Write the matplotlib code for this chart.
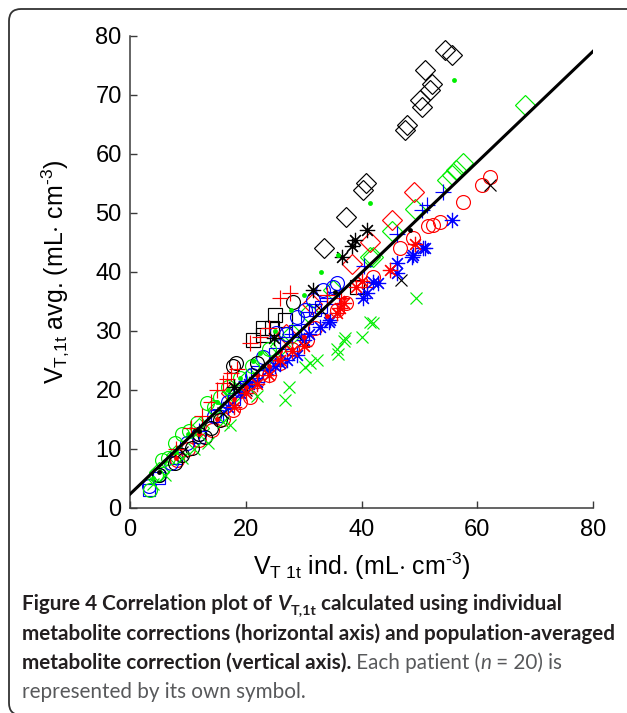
import numpy as np
import matplotlib
matplotlib.use('Agg')
import matplotlib.pyplot as plt
from matplotlib.patches import FancyBboxPatch
from matplotlib.transforms import IdentityTransform

plt.rcParams['font.family'] = ['Liberation Sans', 'DejaVu Sans']
plt.rcParams['mathtext.fontset'] = 'custom'
plt.rcParams['mathtext.rm'] = 'Liberation Sans'
plt.rcParams['mathtext.it'] = 'Liberation Sans:italic'
plt.rcParams['mathtext.bf'] = 'Liberation Sans:bold'

# ---- data: one group per patient (x = individual, y = population-averaged) ----
kd_x = [54.4, 55.6, 51.0, 52.2, 51.8, 50.1, 50.5, 47.9, 47.5, 40.8, 40.3, 37.3, 33.5]
kd_y = [77.6, 76.8, 74.2, 71.9, 70.8, 69.1, 67.9, 64.9, 64.1, 55.0, 53.9, 49.3, 44.0]

ks_x = [21.3, 23.0, 24.5, 25.0, 26.8, 23.0, 39.2]
ks_y = [28.4, 29.3, 30.5, 32.7, 31.8, 30.4, 37.5]

gdot_x = [56.0, 41.4, 35.9, 33.0, 30.0, 27.9, 25.0, 22.5, 21.3, 19.0, 17.0, 15.0, 12.0, 10.0, 8.0, 6.0, 4.0]
gdot_y = [72.5, 51.7, 42.9, 40.0, 36.0, 33.5, 30.0, 26.2, 24.8, 22.0, 20.0, 18.0, 13.0, 12.5, 9.5, 8.0, 5.0]

gx_x = [49.5, 42.0, 41.5, 40.0, 37.1, 36.9, 35.7, 36.0, 32.3, 31.1, 30.2, 27.4, 26.8, 22.0,
        17.3, 16.0, 13.5, 11.0, 9.0, 6.0, 4.0]
gx_y = [35.5, 31.4, 31.5, 28.9, 28.7, 28.2, 27.0, 26.1, 25.1, 24.5, 23.9, 20.5, 18.3, 19.0,
        14.0, 14.5, 10.9, 10.0, 8.5, 5.5, 4.0]

ro_x = [62.2, 60.8, 57.6, 53.6, 52.4, 51.5, 48.9, 46.7, 42.0, 37.4, 35.7, 32.0, 30.5, 28.0,
        26.0, 24.0, 22.0, 20.7, 19.0, 17.8, 16.0, 14.2, 12.0, 10.0, 8.1]
ro_y = [56.1, 54.7, 51.9, 48.5, 47.9, 47.7, 45.7, 44.0, 39.2, 34.7, 33.5, 30.5, 28.5, 27.0,
        24.5, 22.5, 21.5, 18.8, 18.0, 16.6, 15.0, 13.2, 11.5, 10.0, 8.1]

kx_x = [62.2, 46.9, 33.0, 29.9, 20.0, 16.0, 9.0]
kx_y = [54.7, 38.6, 33.5, 28.2, 20.0, 16.0, 9.5]

bst_x = [55.6, 51.0, 50.7, 48.7, 48.9, 46.1, 46.1, 42.9, 42.0, 40.9, 40.3, 34.6, 34.3, 32.8,
         31.0, 30.0, 28.8, 27.1, 26.0, 25.0, 23.9, 21.9, 20.5, 19.0, 17.0]
bst_y = [48.8, 44.0, 44.0, 42.6, 42.9, 41.5, 39.8, 38.1, 38.3, 36.4, 35.5, 31.8, 31.5, 30.7,
         29.5, 28.5, 25.9, 25.1, 24.5, 24.0, 23.4, 21.4, 21.0, 19.5, 17.0]

rd_x = [49.0, 45.2, 41.5, 38.4, 31.5, 27.0, 17.5]
rd_y = [53.6, 48.8, 45.1, 41.4, 34.5, 29.5, 19.5]

gd_x = [68.3, 57.5, 56.4, 55.6, 54.7, 49.2, 45.2, 42.0, 41.5, 35.0, 31.0, 28.0, 26.0, 23.0,
        20.5, 18.0, 15.0, 12.0, 8.0, 5.0]
gd_y = [68.3, 58.4, 57.3, 56.4, 55.6, 50.7, 47.0, 42.6, 42.6, 37.0, 33.0, 29.5, 27.5, 25.0,
        22.0, 19.5, 16.5, 13.5, 9.0, 6.0]

bp_x = [54.1, 51.3, 50.4, 46.1, 40.5, 34.0, 28.0, 20.0, 12.0]
bp_y = [53.6, 51.3, 50.5, 46.5, 41.0, 35.5, 29.5, 21.5, 13.0]

kst_x = [40.9, 38.9, 38.3, 36.6, 31.7, 24.8, 18.0]
kst_y = [47.1, 45.4, 44.3, 42.6, 36.9, 28.7, 20.5]

ko_x = [28.2, 22.0, 18.3, 17.8, 15.6, 14.0, 13.0, 12.0, 10.7, 9.0, 7.8, 5.0]
ko_y = [34.9, 24.5, 24.5, 24.0, 14.9, 13.5, 12.0, 12.5, 10.1, 9.0, 7.5, 5.5]

rp_x = [41.0, 36.5, 34.0, 27.6, 25.9, 24.0, 22.5, 20.7, 18.5, 17.5, 16.7, 16.1, 15.0, 14.0,
        12.5, 10.5, 8.0]
rp_y = [37.5, 35.5, 36.0, 36.4, 35.5, 30.5, 29.0, 27.9, 23.5, 22.8, 21.9, 21.1, 20.0, 18.0,
        15.5, 13.5, 10.0]

rst_x = [49.2, 44.9, 40.0, 39.0, 36.9, 36.3, 35.7, 30.0, 28.0, 26.0, 24.0, 22.0, 20.0, 18.0]
rst_y = [44.8, 40.3, 38.5, 37.5, 34.7, 33.8, 33.0, 27.5, 26.5, 25.0, 22.5, 21.0, 19.5, 17.0]

bo_x = [35.7, 35.1, 33.4, 31.7, 30.3, 28.8, 27.0, 25.3, 23.0, 21.0, 19.0, 17.0, 14.5, 12.0,
        9.8, 7.0, 5.0, 3.2]
bo_y = [38.1, 37.5, 36.9, 35.2, 33.5, 32.4, 29.5, 29.6, 25.5, 22.5, 20.0, 18.0, 15.5, 12.5,
        10.9, 7.5, 5.5, 3.6]

bs_x = [3.2, 5.0, 8.0, 12.0, 15.0, 18.0, 20.0, 22.0, 25.0, 27.0, 28.5, 30.5, 32.0, 33.0, 35.0]
bs_y = [3.0, 5.0, 8.5, 12.0, 15.5, 18.5, 20.5, 23.0, 26.0, 28.0, 30.0, 32.1, 33.5, 34.0, 35.5]

go_x = [3.5, 4.5, 5.5, 6.5, 7.8, 9.0, 10.2, 11.5, 13.3, 14.5, 15.6, 17.0, 19.0, 21.0, 24.0]
go_y = [3.0, 5.5, 8.1, 8.5, 10.9, 12.5, 13.0, 14.3, 17.7, 17.0, 18.8, 20.5, 22.0, 24.0, 27.0]

rdot_x = [37.0, 34.0, 30.0, 28.0, 26.0, 25.5, 24.0, 22.0, 20.0, 18.0, 15.0, 12.0, 8.0]
rdot_y = [35.5, 32.5, 29.0, 27.0, 26.5, 25.0, 24.0, 22.5, 20.5, 18.5, 15.0, 12.5, 8.5]

kdot_x = [48.4, 35.5, 23.0, 12.0, 5.0]
kdot_y = [47.1, 36.5, 24.0, 13.0, 6.0]

fit_x = [0, 80]
fit_y = [2.3, 77.4]

ASTER = (8, 2, 0)
groups = [
    (kd_x, kd_y, 'k', 'D', 10.5),
    (ks_x, ks_y, 'k', 's', 9.5),
    (gd_x, gd_y, 'g', 'D', 10.5),
    (rd_x, rd_y, 'r', 'D', 10.5),
    (bs_x, bs_y, 'b', 's', 9),
    (ro_x, ro_y, 'r', 'o', 10),
    (bo_x, bo_y, 'b', 'o', 10),
    (go_x, go_y, 'g', 'o', 10),
    (ko_x, ko_y, 'k', 'o', 10),
    (gx_x, gx_y, 'g', 'x', 9),
    (kx_x, kx_y, 'k', 'x', 9),
    (bp_x, bp_y, 'b', '+', 11),
    (rp_x, rp_y, 'r', '+', 11),
    (bst_x, bst_y, 'b', ASTER, 11),
    (rst_x, rst_y, 'r', ASTER, 11),
    (kst_x, kst_y, 'k', ASTER, 11),
    (gdot_x, gdot_y, 'g', '.', 5),
    (rdot_x, rdot_y, 'r', '.', 5),
    (kdot_x, kdot_y, 'k', '.', 5),
]
cols = {'k': '#000000', 'g': '#00ee00', 'r': '#ff0000', 'b': '#0000ff'}

W, H, DPI = 627, 713, 100
fig = plt.figure(figsize=(W / DPI, H / DPI), dpi=DPI)
ax = fig.add_axes([130 / W, 1 - 507.7 / H, 463 / W, 471.7 / H])

for gx_, gy_, c, m, ms in groups:
    if m == '.':
        ax.plot(gx_, gy_, ls='none', marker='o', ms=3.5, color=cols[c], mec='none')
    else:
        ax.plot(gx_, gy_, ls='none', marker=m, ms=ms, mfc='none', mec=cols[c], mew=0.85)

ax.plot(fit_x, fit_y, color='k', lw=2.2, zorder=5)

ax.set_xlim(0, 80)
ax.set_ylim(0, 80)
ax.set_xticks([0, 20, 40, 60, 80])
ax.set_yticks(range(0, 81, 10))
for s in ['top', 'right']:
    ax.spines[s].set_visible(False)
for s in ['left', 'bottom']:
    ax.spines[s].set_color('#3a3a3a')
    ax.spines[s].set_linewidth(1.1)
ax.tick_params(direction='in', length=5, width=1, color='#3a3a3a', labelsize=17)
ax.tick_params(axis='x', pad=8)
ax.tick_params(axis='y', pad=6)

ax.set_xlabel(r'V$_{\mathrm{T\ 1t}}$ ind. (mL$\cdot$ cm$^{\text{-3}}$)', fontsize=18)
ax.set_ylabel(r'V$_{\mathrm{T{,}1t}}$ avg. (mL$\cdot$ cm$^{\text{-3}}$)', fontsize=18)
ax.xaxis.label.set_va('center')
ax.yaxis.label.set_va('center')
ax.xaxis.set_label_coords(0.5, -0.125)
ax.yaxis.set_label_coords(-0.162, 0.5)

# rounded frame around the figure
frame = FancyBboxPatch((9, -2), 700, H - 7, boxstyle='round,pad=0,rounding_size=12',
                       transform=IdentityTransform(), fill=False, ec='#333333', lw=1.3)
fig.patches.append(frame)

# caption
renderer = fig.canvas.get_renderer()
bold = dict(family=['Lato', 'DejaVu Sans'], weight='bold', color='#231f20')
reg = dict(family=['Lato', 'DejaVu Sans'], weight='normal', color='#58595b')

probe = fig.text(0, 0, 'metabolite corrections (horizontal axis) and population-averaged',
                 fontsize=12, **bold)
fs = 12 * 588 / probe.get_window_extent(renderer).width
probe.remove()


def runs(x0, ybase, pieces):
    x = x0
    for s, props, dy, scale in pieces:
        t = fig.text(x / W, 1 - (ybase + dy) / H, s, fontsize=fs * scale,
                     va='baseline', ha='left', **props)
        x += t.get_window_extent(renderer).width


it_bold = dict(bold, style='italic')
it_reg = dict(reg, style='italic')
runs(22, 610, [('Figure 4 Correlation plot of ', bold, 0, 1),
               ('V', it_bold, 0, 1), ('T,1t', bold, 4, 0.7),
               (' calculated using individual', bold, 0, 1)])
runs(22, 640, [('metabolite corrections (horizontal axis) and population-averaged', bold, 0, 1)])
runs(22, 669, [('metabolite correction (vertical axis).', bold, 0, 1),
               (' Each patient (', reg, 0, 1), ('n', it_reg, 0, 1),
               (' = 20) is', reg, 0, 1)])
runs(22, 698, [('represented by its own symbol.', reg, 0, 1)])

fig.savefig('out.png', dpi=DPI)
